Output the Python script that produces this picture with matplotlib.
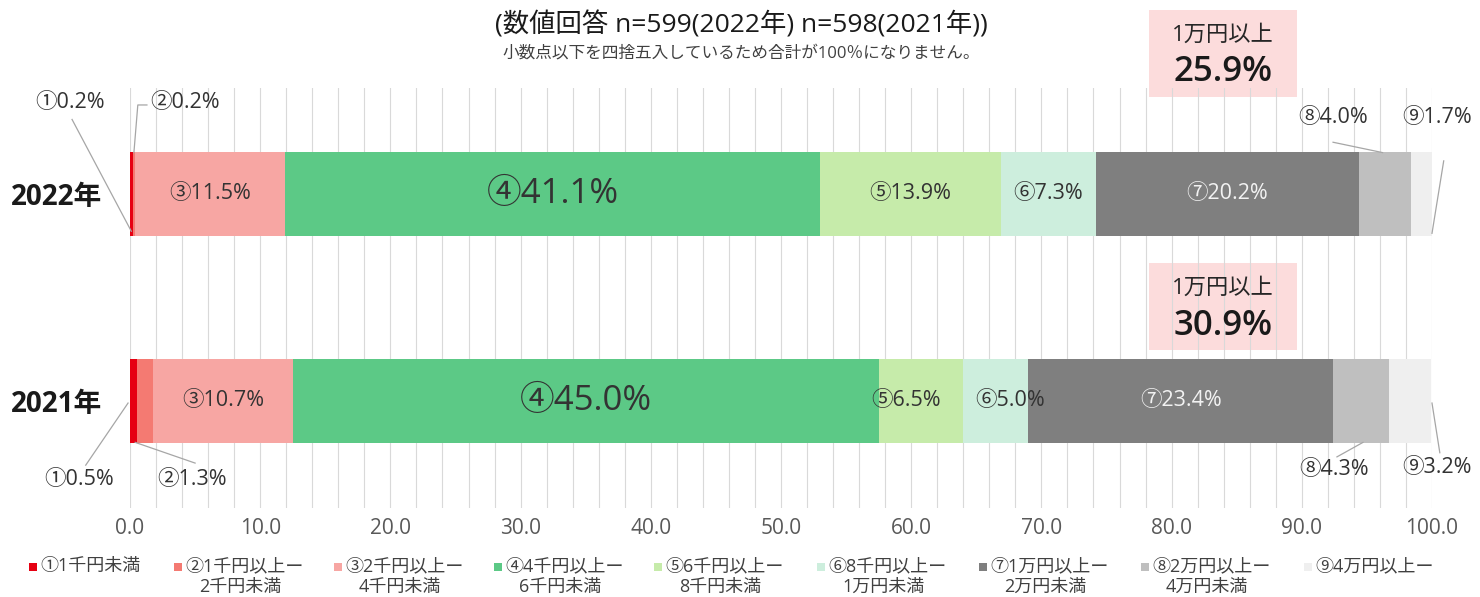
import matplotlib
matplotlib.use("Agg")
import matplotlib.pyplot as plt
import matplotlib.patches as patches
import numpy as np

plt.rcParams['font.family'] = ['Open Sans', 'Noto Sans CJK JP', 'DejaVu Sans']

# === données ===
years = ["2022年", "2021年"]
marks = ["①", "②", "③", "④", "⑤", "⑥", "⑦", "⑧", "⑨"]
vals_2022 = [0.2, 0.2, 11.5, 41.1, 13.9, 7.3, 20.2, 4.0, 1.7]
vals_2021 = [0.5, 1.3, 10.7, 45.0, 6.5, 5.0, 23.4, 4.3, 3.2]
categories = ["①1千円未満", "②1千円以上ー\n2千円未満", "③2千円以上ー\n4千円未満",
              "④4千円以上ー\n6千円未満", "⑤6千円以上ー\n8千円未満", "⑥8千円以上ー\n1万円未満",
              "⑦1万円以上ー\n2万円未満", "⑧2万円以上ー\n4万円未満", "⑨4万円以上ー"]
ticks = [0, 10, 20, 30, 40, 50, 60, 70, 80, 90, 100]
title = "(数値回答 n=599(2022年) n=598(2021年))"
note = "小数点以下を四捨五入しているため合計が100％になりません。"

colors = ["#e60012", "#f47a72", "#f7a6a3", "#5cc986", "#c6ebaa",
          "#cdeedd", "#7f7f7f", "#bfbfbf", "#efefef"]

fig = plt.figure(figsize=(14.8, 5.97), dpi=100)
ax = fig.add_axes([130 / 1480, 1 - 508 / 597, 1302 / 1480, 420 / 597])

ypos = {"2022年": 1, "2021年": 0}
data = {"2022年": vals_2022, "2021年": vals_2021}
bar_h = 0.405

# barres empilées
for yr in years:
    v = np.array(data[yr])
    left = np.concatenate([[0], np.cumsum(v)[:-1]])
    ax.barh(ypos[yr], v, left=left, height=bar_h, color=colors, zorder=2)

# étiquettes dans les barres (③ à ⑦)
inside_shift = {"2022年": [0] * 9, "2021年": [0, 0, 0, 0, -1.15, 1.1, 0, 0, 0]}
for yr in years:
    v = np.array(data[yr])
    left = np.concatenate([[0], np.cumsum(v)[:-1]])
    for i in range(2, 7):
        cx = left[i] + v[i] / 2 + inside_shift[yr][i]
        big = (i == 3)
        ax.text(cx, ypos[yr], f"{marks[i]}{v[i]:.1f}%", ha='center', va='center',
                fontsize=25 if big else 15.5,
                color="#f2f2f2" if i == 6 else "#333333", zorder=4)

# étiquettes hors barres avec traits de rappel
# (indice, position du texte, points du trait)
outside = {
    "2022年": [
        (0, (-4.6, 1.44), [(0.1, 0.82), (-4.45, 1.36)]),
        (1, (4.2, 1.44), [(0.3, 1.2), (0.6, 1.43), (1.3, 1.43)]),
        (7, (92.4, 1.37), [(92.4, 1.25), (96.2, 1.2)]),
        (8, (100.4, 1.37), [(100.9, 1.16), (100.0, 0.81)]),
    ],
    "2021年": [
        (0, (-3.9, -0.38), [(-0.15, -0.01), (-3.4, -0.31)]),
        (1, (4.8, -0.38), [(0.4, -0.2), (5.0, -0.3)]),
        (7, (92.5, -0.33), [(92.7, -0.27), (94.7, -0.2)]),
        (8, (100.4, -0.32), [(100.6, -0.25), (100.0, -0.01)]),
    ],
}
for yr in years:
    v = data[yr]
    for i, (tx, ty), pts in outside[yr]:
        ax.text(tx, ty, f"{marks[i]}{v[i]:.1f}%", ha='center', va='center',
                fontsize=15.5, color="#333333", clip_on=False, zorder=4)
        xs, ys = zip(*pts)
        ax.plot(xs, ys, color="#a6a6a6", lw=0.9, clip_on=False, zorder=3)

# encadrés "1万円以上"
box_y = {"2022年": (1.47, 1.89), "2021年": (0.246, 0.667)}
for yr in years:
    total = sum(data[yr][6:])
    y0, y1 = box_y[yr]
    ax.add_patch(patches.Rectangle((78.3, y0), 11.3, y1 - y0, facecolor="#fcdcdc",
                                   edgecolor='none', clip_on=False, zorder=0))
    ax.text(83.95, y0 + (y1 - y0) * 0.71, "1万円以上", ha='center', va='center',
            fontsize=16, color="#262626", clip_on=False, zorder=4)
    ax.text(83.95, y0 + (y1 - y0) * 0.28, f"{total:.1f}%", ha='center', va='center',
            fontsize=25, fontweight='semibold', color="#1a1a1a", clip_on=False, zorder=4)

# axes et grille
ax.set_xlim(0, 100)
ax.set_ylim(-0.517, 1.512)
ax.set_xticks(ticks)
ax.set_xticklabels([f"{t:.1f}" for t in ticks], fontsize=15, color="#595959")
ax.set_xticks(np.arange(0, 101, 2), minor=True)
ax.grid(axis='x', which='both', color="#d9d9d9", lw=0.8, zorder=1)
ax.set_axisbelow(True)
ax.set_yticks([ypos[y] for y in years])
ax.set_yticklabels(years, fontsize=20, fontweight='bold', color="#1a1a1a")
ax.tick_params(axis='both', which='both', length=0)
ax.tick_params(axis='y', pad=20)
ax.tick_params(axis='x', pad=7)
for s in ax.spines.values():
    s.set_visible(False)

# titres
fig.text(741 / 1480, 1 - 25 / 597, title, ha='center', va='center', fontsize=19, color="#1a1a1a")
fig.text(741 / 1480, 1 - 53 / 597, note, ha='center', va='center', fontsize=12, color="#404040")

# légende manuelle
leg_x = [40, 185, 345, 505, 665, 828, 990, 1152, 1315]
for i, cat in enumerate(categories):
    x = leg_x[i] / 1480
    fig.patches.append(patches.Rectangle((x - 11 / 1480, 1 - 571 / 597), 8 / 1480, 8 / 597,
                                         transform=fig.transFigure, facecolor=colors[i],
                                         edgecolor='none'))
    lines = cat.split("\n")
    fig.text(x, 1 - 566 / 597, lines[0], ha='left', va='center', fontsize=13, color="#404040")
    if len(lines) > 1:
        fig.text(x + 14 / 1480, 1 - 587 / 597, lines[1], ha='left', va='center',
                 fontsize=13, color="#404040")

fig.savefig("out.png", dpi=100, facecolor='white')
